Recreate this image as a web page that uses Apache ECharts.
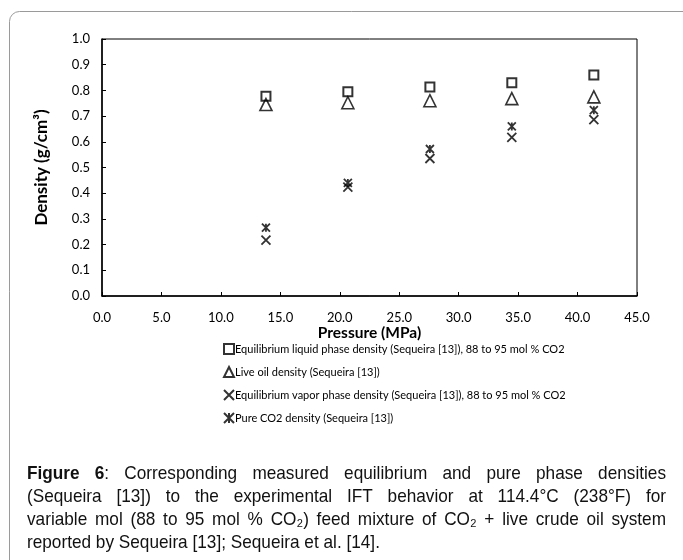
<!DOCTYPE html>
<html>
<head>
<meta charset="utf-8">
<script src="https://cdn.jsdelivr.net/npm/echarts@6/dist/echarts.min.js"></script>
<style>
  html, body { margin: 0; padding: 0; background: #fff; }
  #chart { width: 683px; height: 560px; }
</style>
</head>
<body>
<div id="chart"></div>
<script>
// values (pressure in MPa, density in g/cm3)
const pressure = [13.79, 20.68, 27.58, 34.47, 41.37];
const liquidDensity = [0.777, 0.795, 0.813, 0.830, 0.860];
const liveOilDensity = [0.745, 0.752, 0.760, 0.768, 0.775];
const vaporDensity = [0.217, 0.424, 0.535, 0.617, 0.686];
const pureCO2Density = [0.266, 0.440, 0.572, 0.660, 0.723];

const seriesNames = [
    'Equilibrium liquid phase density (Sequeira [13]), 88 to 95 mol % CO2',
    'Live oil density (Sequeira [13])',
    'Equilibrium vapor phase density (Sequeira [13]), 88 to 95 mol % CO2',
    'Pure CO2 density (Sequeira [13])'
];

const captionLines = [
    [[['Figure', true]], [['6', true], [':', false]], 'Corresponding', 'measured', 'equilibrium', 'and', 'pure', 'phase', 'densities'],
    ['(Sequeira', '[13])', 'to', 'the', 'experimental', 'IFT', 'behavior', 'at', '114.4°C', '(238°F)', 'for'],
    ['variable', 'mol', '(88', 'to', '95', 'mol', '%', 'CO₂)', 'feed', 'mixture', 'of', 'CO₂', '+', 'live', 'crude', 'oil', 'system'],
    ['reported', 'by', 'Sequeira', '[13];', 'Sequeira', 'et', 'al.', '[14].']
];

const font = 'Lato';
const capFont = '"Liberation Sans", Arial, sans-serif';
const capSize = 18.5;
const capScale = 0.93; // caption face in the figure is a little narrow

function pairs(ys) {
    return pressure.map((p, i) => [p, ys[i]]);
}

// justified caption, one text element per word
const measure = document.createElement('canvas').getContext('2d');
function wordWidth(w) {
    const segs = typeof w === 'string' ? [[w, false]] : w;
    let total = 0;
    segs.forEach(s => {
        measure.font = (s[1] ? 'bold ' : '') + capSize + 'px ' + capFont;
        total += measure.measureText(s[0]).width;
    });
    return total * capScale;
}
function captionGraphics() {
    const left = 27, right = 666, top = 474, lh = 23;
    const out = [];
    captionLines.forEach((words, li) => {
        const widths = words.map(wordWidth);
        const sum = widths.reduce((a, b) => a + b, 0);
        const last = li === captionLines.length - 1;
        const gap = last ? wordWidth(' ') : (right - left - sum) / (words.length - 1);
        let x = left;
        words.forEach((w, wi) => {
            const segs = typeof w === 'string' ? [[w, false]] : w;
            out.push({
                type: 'text',
                x: x,
                y: top + li * lh,
                scaleX: capScale,
                style: {
                    text: segs.map(s => '{' + (s[1] ? 'b' : 'r') + '|' + s[0] + '}').join(''),
                    verticalAlign: 'middle',
                    rich: {
                        b: { font: 'bold ' + capSize + 'px ' + capFont, fill: '#111' },
                        r: { font: capSize + 'px ' + capFont, fill: '#111' }
                    }
                }
            });
            x += widths[wi] + gap;
        });
    });
    return out;
}

const chart = echarts.init(document.getElementById('chart'));

const hollow = { color: 'rgba(0,0,0,0)', borderColor: '#000' };

const option = {
    backgroundColor: '#fff',
    animation: false,
    grid: {
        left: 102, right: 46, top: 39, bottom: 264,
        show: true, borderColor: '#000', borderWidth: 1
    },
    xAxis: {
        type: 'value', min: 0, max: 45, interval: 5,
        name: 'Pressure (MPa)', nameLocation: 'middle', nameGap: 28,
        nameTextStyle: { fontFamily: font, fontWeight: 'bold', fontSize: 15.5, color: '#000' },
        axisLine: { lineStyle: { color: '#000', width: 1.5 } },
        axisTick: { inside: true, length: 4, lineStyle: { color: '#000' } },
        axisLabel: { fontFamily: font, fontSize: 13, color: '#000', margin: 15, formatter: v => v.toFixed(1) },
        splitLine: { show: false }
    },
    yAxis: {
        type: 'value', min: 0, max: 1, interval: 0.1,
        name: 'Density (g/cm³)', nameLocation: 'middle', nameGap: 52, nameRotate: 90,
        nameTextStyle: { fontFamily: font, fontWeight: 'bold', fontSize: 17, color: '#000' },
        axisLine: { lineStyle: { color: '#000', width: 1.5 } },
        axisTick: { inside: true, length: 4, lineStyle: { color: '#000' } },
        axisLabel: { fontFamily: font, fontSize: 13, color: '#000', margin: 12, formatter: v => v.toFixed(1) },
        splitLine: { show: false }
    },
    legend: {
        orient: 'vertical', left: 218, top: 338,
        itemWidth: 10, itemHeight: 10, itemGap: 11,
        textStyle: { fontFamily: font, fontSize: 11, color: '#000', padding: [0, 0, 0, -4] },
        data: seriesNames
    },
    series: [
        {
            name: seriesNames[0], type: 'scatter', data: pairs(liquidDensity),
            symbol: 'rect', symbolSize: 9,
            itemStyle: Object.assign({ borderWidth: 2 }, hollow)
        },
        {
            name: seriesNames[1], type: 'scatter', data: pairs(liveOilDensity),
            symbol: 'triangle', symbolSize: 12,
            itemStyle: Object.assign({ borderWidth: 1.6 }, hollow)
        },
        {
            name: seriesNames[2], type: 'scatter', data: pairs(vaporDensity),
            symbol: 'path://M0,0L10,10M10,0L0,10', symbolSize: 9,
            itemStyle: Object.assign({ borderWidth: 1.8 }, hollow)
        },
        {
            name: seriesNames[3], type: 'scatter', data: pairs(pureCO2Density),
            symbol: 'path://M0,0L10,10M10,0L0,10M5,0L5,10', symbolSize: 8,
            itemStyle: Object.assign({ borderWidth: 1.8 }, hollow)
        }
    ],
    graphic: [
        {
            type: 'rect', silent: true, z: -1,
            shape: { x: 9.5, y: 11.5, width: 720, height: 620, r: 10 },
            style: { fill: 'none', stroke: '#9a9a9a', lineWidth: 1 }
        }
    ].concat(captionGraphics())
};

chart.setOption(option);
</script>
</body>
</html>
